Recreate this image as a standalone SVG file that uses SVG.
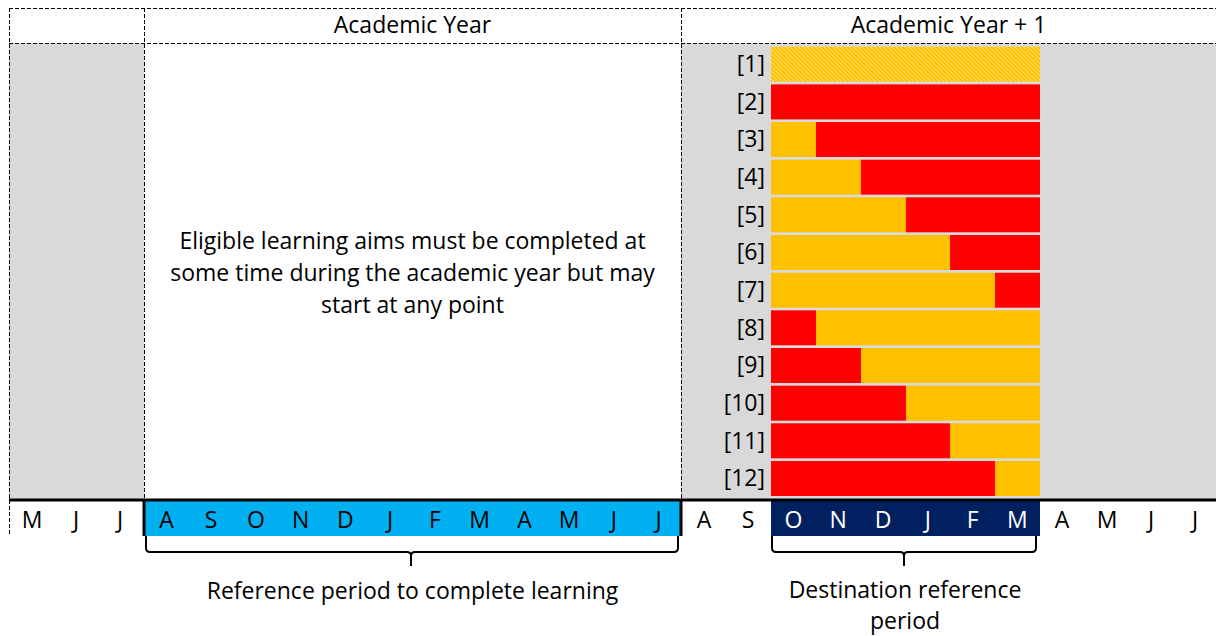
<svg xmlns="http://www.w3.org/2000/svg" width="1216" height="636" viewBox="0 0 1216 636">
<style>
text{font-family:"Open Sans","Liberation Sans",Arial,sans-serif;font-size:23px;fill:#000}
.c{text-anchor:middle}
.r{text-anchor:end}
.w{fill:#fff}
.dash{stroke:#000;stroke-width:1;stroke-dasharray:4 2;fill:none}
.red{fill:#FF0000}
.org{fill:#FFC000}
.brace{fill:none;stroke:#000;stroke-width:2}
</style>
<defs>
<pattern id="hatch" width="3" height="3" patternUnits="userSpaceOnUse" patternTransform="rotate(-45)">
<rect width="3" height="3" fill="#FFC000"/>
<rect width="1" height="3" fill="#FFE070"/>
</pattern>
</defs>
<rect width="1216" height="636" fill="#fff"/>
<g id="background">
<rect x="9" y="43" width="135" height="457" fill="#D9D9D9"/>
<rect x="681" y="43" width="535" height="457" fill="#D9D9D9"/>
</g>
<g id="grid">
<line class="dash" x1="9" y1="8.5" x2="1216" y2="8.5"/>
<line class="dash" x1="9" y1="43.5" x2="1216" y2="43.5"/>
<line class="dash" x1="9.5" y1="8" x2="9.5" y2="536"/>
<line class="dash" x1="144.5" y1="8" x2="144.5" y2="500"/>
<line class="dash" x1="681.5" y1="8" x2="681.5" y2="500"/>
</g>
<g id="headers">
<text class="c" x="412.5" y="33">Academic Year</text>
<text class="c" x="948.5" y="33">Academic Year + 1</text>
</g>
<g id="note">
<text class="c" x="412.5" y="249">Eligible learning aims must be completed at</text>
<text class="c" x="412.5" y="281">some time during the academic year but may</text>
<text class="c" x="412.5" y="313">start at any point</text>
</g>
<g id="bars">
<rect x="771" y="46.7" width="269" height="35" fill="url(#hatch)"/>
<rect class="red" x="771" y="84.4" width="269" height="35"/>
<rect class="org" x="771" y="122" width="45" height="35"/><rect class="red" x="816" y="122" width="224" height="35"/>
<rect class="org" x="771" y="159.7" width="90" height="35"/><rect class="red" x="861" y="159.7" width="179" height="35"/>
<rect class="org" x="771" y="197.3" width="135" height="35"/><rect class="red" x="906" y="197.3" width="134" height="35"/>
<rect class="org" x="771" y="235" width="179" height="35"/><rect class="red" x="950" y="235" width="90" height="35"/>
<rect class="org" x="771" y="272.7" width="224" height="35"/><rect class="red" x="995" y="272.7" width="45" height="35"/>
<rect class="red" x="771" y="310.3" width="45" height="35"/><rect class="org" x="816" y="310.3" width="224" height="35"/>
<rect class="red" x="771" y="348" width="90" height="35"/><rect class="org" x="861" y="348" width="179" height="35"/>
<rect class="red" x="771" y="385.7" width="135" height="35"/><rect class="org" x="906" y="385.7" width="134" height="35"/>
<rect class="red" x="771" y="423.3" width="179" height="35"/><rect class="org" x="950" y="423.3" width="90" height="35"/>
<rect class="red" x="771" y="461" width="224" height="35"/><rect class="org" x="995" y="461" width="45" height="35"/>
</g>
<g id="bar-labels">
<text class="r" x="765" y="72">[1]</text>
<text class="r" x="765" y="109.7">[2]</text>
<text class="r" x="765" y="147.3">[3]</text>
<text class="r" x="765" y="185">[4]</text>
<text class="r" x="765" y="222.6">[5]</text>
<text class="r" x="765" y="260.3">[6]</text>
<text class="r" x="765" y="298">[7]</text>
<text class="r" x="765" y="335.6">[8]</text>
<text class="r" x="765" y="373.3">[9]</text>
<text class="r" x="765" y="411">[10]</text>
<text class="r" x="765" y="448.6">[11]</text>
<text class="r" x="765" y="486.3">[12]</text>
</g>
<g id="months">
<rect x="144" y="500" width="537" height="36" fill="#00B0F0"/>
<rect x="771" y="500" width="269" height="36" fill="#002060"/>
<line x1="9" y1="500" x2="1216" y2="500" stroke="#000" stroke-width="3"/>
<line x1="144" y1="500" x2="144" y2="536" stroke="#000" stroke-width="3"/>
<line x1="681" y1="500" x2="681" y2="536" stroke="#000" stroke-width="3"/>
<text class="c" x="32" y="528">M</text>
<text class="c" x="76" y="528">J</text>
<text class="c" x="120" y="528">J</text>
<text class="c" x="166.4" y="528">A</text>
<text class="c" x="211.1" y="528">S</text>
<text class="c" x="255.9" y="528">O</text>
<text class="c" x="300.6" y="528">N</text>
<text class="c" x="345.4" y="528">D</text>
<text class="c" x="390.1" y="528">J</text>
<text class="c" x="434.9" y="528">F</text>
<text class="c" x="479.6" y="528">M</text>
<text class="c" x="524.4" y="528">A</text>
<text class="c" x="569.1" y="528">M</text>
<text class="c" x="613.9" y="528">J</text>
<text class="c" x="658.6" y="528">J</text>
<text class="c" x="704" y="528">A</text>
<text class="c" x="748" y="528">S</text>
<text class="c w" x="793.4" y="528">O</text>
<text class="c w" x="838.2" y="528">N</text>
<text class="c w" x="883" y="528">D</text>
<text class="c w" x="927.8" y="528">J</text>
<text class="c w" x="972.6" y="528">F</text>
<text class="c w" x="1017.4" y="528">M</text>
<text class="c" x="1062" y="528">A</text>
<text class="c" x="1107" y="528">M</text>
<text class="c" x="1151" y="528">J</text>
<text class="c" x="1195" y="528">J</text>
</g>
<g id="braces">
<path class="brace" d="M146 536 V548 Q146 552 150 552 H407 Q411 552 411 556 V566 M411 566 V556 Q411 552 415 552 H674 Q678 552 678 548 V536"/>
<path class="brace" d="M772 536 V548 Q772 552 776 552 H900 Q904 552 904 556 V566 M904 566 V556 Q904 552 908 552 H1032 Q1036 552 1036 548 V536"/>
</g>
<g id="captions">
<text class="c" x="412.5" y="599">Reference period to complete learning</text>
<text class="c" x="905" y="598">Destination reference</text>
<text class="c" x="905" y="629">period</text>
</g>
</svg>
